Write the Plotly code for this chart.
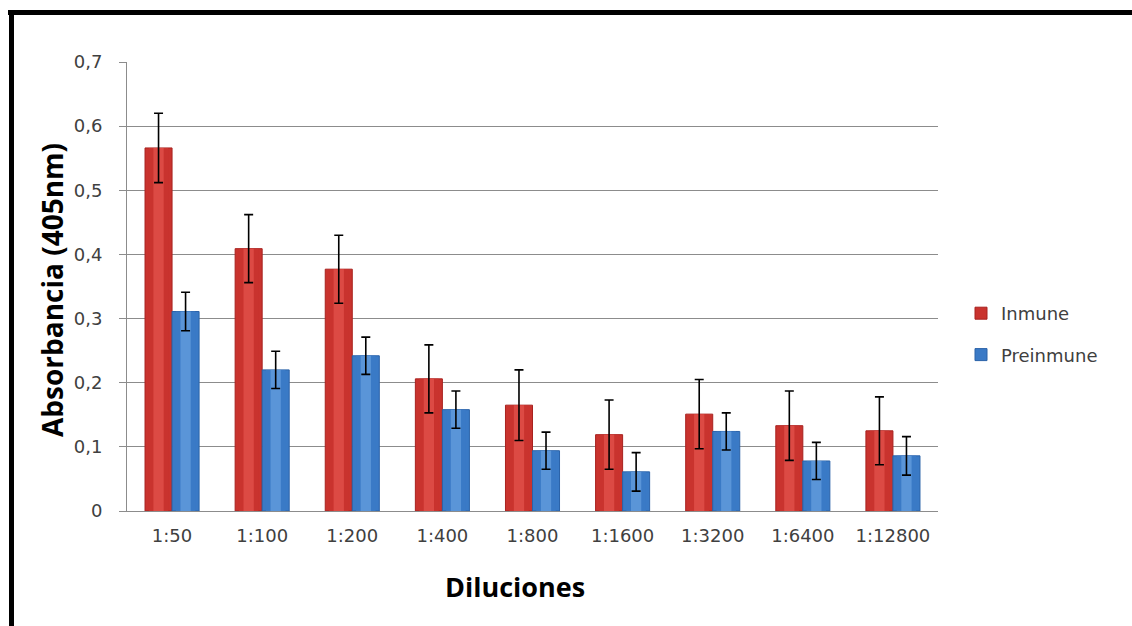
import plotly.graph_objects as go

# ELISA absorbance by serum dilution
diluciones = ["1:50", "1:100", "1:200", "1:400", "1:800", "1:1600", "1:3200", "1:6400", "1:12800"]
inmune = [0.566, 0.409, 0.377, 0.206, 0.165, 0.119, 0.151, 0.133, 0.125]
inmune_err = [0.054, 0.053, 0.053, 0.053, 0.055, 0.054, 0.054, 0.054, 0.053]
preinmune = [0.311, 0.220, 0.242, 0.158, 0.094, 0.061, 0.124, 0.078, 0.086]
preinmune_err = [0.030, 0.029, 0.029, 0.029, 0.029, 0.030, 0.029, 0.029, 0.030]
y_ticks = [0, 0.1, 0.2, 0.3, 0.4, 0.5, 0.6, 0.7]
y_tick_text = ["0", "0,1", "0,2", "0,3", "0,4", "0,5", "0,6", "0,7"]

W, H = 1132, 626
ML, MR, MT, MB = 127, 194, 62, 115
PW, PH = W - ML - MR, H - MT - MB


def px_x(p):
    return (p - ML) / PW


def px_y(p):
    return (H - MB - p) / PH


BAR_W = 0.3
# shading layers: (width fraction, colour) from outer edge to centre highlight
red_layers = [(1.0, "#a8221f"), (0.72, "#c9332e"), (0.38, "#dc4a44")]
blue_layers = [(1.0, "#2a62a8"), (0.72, "#3a7ac6"), (0.38, "#5a95d8")]

fig = go.Figure()


def add_series(name, values, errs, layers, offset_center):
    for i, (frac, col) in enumerate(layers):
        w = BAR_W * frac
        fig.add_trace(go.Bar(
            x=diluciones, y=values, name=name,
            width=w, offset=offset_center - w / 2,
            marker=dict(color=col, line=dict(width=0)),
            showlegend=(i == 0), legendgroup=name,
            hoverinfo="skip" if i else None,
            error_y=dict(type="data", array=errs, color="black",
                         thickness=1.6, width=4.5) if i == len(layers) - 1 else None,
        ))


add_series("Inmune", inmune, inmune_err, red_layers, -BAR_W / 2)
add_series("Preinmune", preinmune, preinmune_err, blue_layers, BAR_W / 2)

# legend swatch colours use the mid tone with a darker outline
fig.data[0].marker.color = red_layers[1][1]
fig.data[0].marker.line = dict(width=1, color=red_layers[0][1])
fig.data[3].marker.color = blue_layers[1][1]
fig.data[3].marker.line = dict(width=1, color=blue_layers[0][1])

TICK_FONT = dict(family="DejaVu Sans", size=18, color="#404040")

fig.update_layout(
    width=W, height=H,
    margin=dict(l=ML, r=MR, t=MT, b=MB),
    paper_bgcolor="white", plot_bgcolor="white",
    barmode="overlay",
    font=TICK_FONT,
    showlegend=True,
    legend=dict(x=px_x(961), y=px_y(295), xanchor="left", yanchor="top",
                font=TICK_FONT, tracegroupgap=15,
                bgcolor="rgba(0,0,0,0)"),
    xaxis=dict(type="category", showline=True, linecolor="#8c8c8c", linewidth=1,
               showgrid=False, ticks="", tickfont=TICK_FONT, ticklabelstandoff=8),
    yaxis=dict(range=[0, 0.7], tickvals=y_ticks, ticktext=y_tick_text,
               showline=True, linecolor="#8c8c8c", linewidth=1,
               showgrid=True, gridcolor="#8c8c8c", gridwidth=1,
               ticks="outside", ticklen=7, tickcolor="#8c8c8c",
               tickfont=TICK_FONT, ticklabelstandoff=13, zeroline=False),
    annotations=[
        dict(text="<b>Absorbancia (405nm)</b>", xref="paper", yref="paper",
             x=px_x(52), y=px_y(290), xanchor="center", yanchor="middle",
             textangle=-90, showarrow=False,
             font=dict(family="Open Sans", size=28, color="black")),
        dict(text="<b>Diluciones</b>", xref="paper", yref="paper",
             x=px_x(515), y=px_y(586), xanchor="center", yanchor="middle",
             showarrow=False,
             font=dict(family="Open Sans", size=27, color="black")),
    ],
    shapes=[
        dict(type="line", xref="paper", yref="paper", x0=px_x(8), x1=px_x(1140),
             y0=px_y(12.5), y1=px_y(12.5), line=dict(color="black", width=5)),
        dict(type="line", xref="paper", yref="paper", x0=px_x(11.5), x1=px_x(11.5),
             y0=px_y(10), y1=px_y(640), line=dict(color="black", width=5)),
    ],
)

fig.write_html("out.html")
